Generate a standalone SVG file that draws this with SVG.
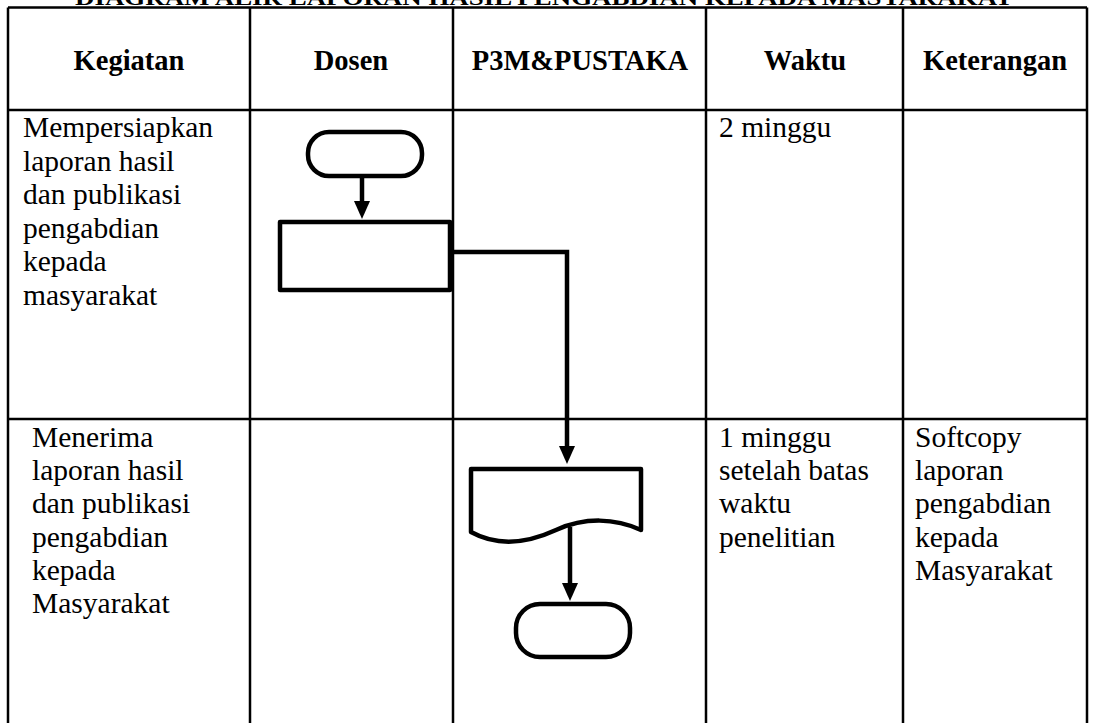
<svg xmlns="http://www.w3.org/2000/svg" width="1094" height="723" viewBox="0 0 1094 723">
<style>
.grid{stroke:#000;stroke-width:2.5;fill:none}
.hd{font-weight:bold;font-size:28.5px;fill:#000;text-anchor:middle}
.tx{font-size:29.5px;fill:#000}
.title{font-weight:bold;font-size:22px;fill:#000}
.shape{fill:#fff;stroke:#000;stroke-width:4.5;stroke-linejoin:round}
.conn{fill:none;stroke:#000;stroke-width:4.5}
</style>
<defs>
<marker id="arr" markerUnits="userSpaceOnUse" viewBox="0 0 18 16" markerWidth="18" markerHeight="16" refX="8" refY="8" orient="auto">
<path d="M0,0 L18,8 L0,16 Z" fill="#000"/>
</marker>
</defs>
<rect width="1094" height="723" fill="#fff"/>
<g font-family="Liberation Serif, Times New Roman, DejaVu Serif, serif">
<text class="title" x="75" y="4.5" textLength="938" lengthAdjust="spacingAndGlyphs">DIAGRAM ALIR LAPORAN HASIL PENGABDIAN KEPADA MASYARAKAT</text>
<g id="table">
<path class="grid" d="M8,7.5 H1087 M8,110 H1087 M8,419 H1087 M8,7.5 V723 M250,7.5 V723 M453,7.5 V723 M706,7.5 V723 M903,7.5 V723 M1087,7.5 V723"/>
<text class="hd" x="129" y="70">Kegiatan</text>
<text class="hd" x="351" y="70">Dosen</text>
<text class="hd" x="580" y="70">P3M&amp;PUSTAKA</text>
<text class="hd" x="805" y="70">Waktu</text>
<text class="hd" x="995" y="70">Keterangan</text>
</g>
<g id="row1-text" class="tx">
<text x="23" y="137">Mempersiapkan</text>
<text x="23" y="170.5">laporan hasil</text>
<text x="23" y="204">dan publikasi</text>
<text x="23" y="237.5">pengabdian</text>
<text x="23" y="271">kepada</text>
<text x="23" y="304.5">masyarakat</text>
<text x="719" y="137">2 minggu</text>
</g>
<g id="row2-text" class="tx">
<text x="32" y="447">Menerima</text>
<text x="32" y="480">laporan hasil</text>
<text x="32" y="513">dan publikasi</text>
<text x="32" y="546.5">pengabdian</text>
<text x="32" y="580">kepada</text>
<text x="32" y="613">Masyarakat</text>
<text x="719" y="447">1 minggu</text>
<text x="719" y="480">setelah batas</text>
<text x="719" y="513">waktu</text>
<text x="719" y="546.5">penelitian</text>
<text x="915" y="447">Softcopy</text>
<text x="915" y="480">laporan</text>
<text x="915" y="513">pengabdian</text>
<text x="915" y="546.5">kepada</text>
<text x="915" y="580">Masyarakat</text>
</g>
</g>
<g id="connectors">
<path class="conn" d="M362,178 V209" marker-end="url(#arr)"/>
<path class="conn" d="M452,252 H567 V454" marker-end="url(#arr)"/>
<path class="conn" d="M570,527 V591" marker-end="url(#arr)"/>
</g>
<g id="start">
<rect class="shape" x="308" y="132" width="114" height="44" rx="21"/>
</g>
<g id="prepare">
<rect class="shape" x="280" y="222" width="170" height="68"/>
</g>
<g id="document">
<path class="shape" d="M471,469 H641 V530 C615,518 585,517 556,530 C530,542 500,548 471,532 Z"/>
</g>
<g id="end">
<rect class="shape" x="516" y="604" width="114" height="53" rx="24"/>
</g>
</svg>
